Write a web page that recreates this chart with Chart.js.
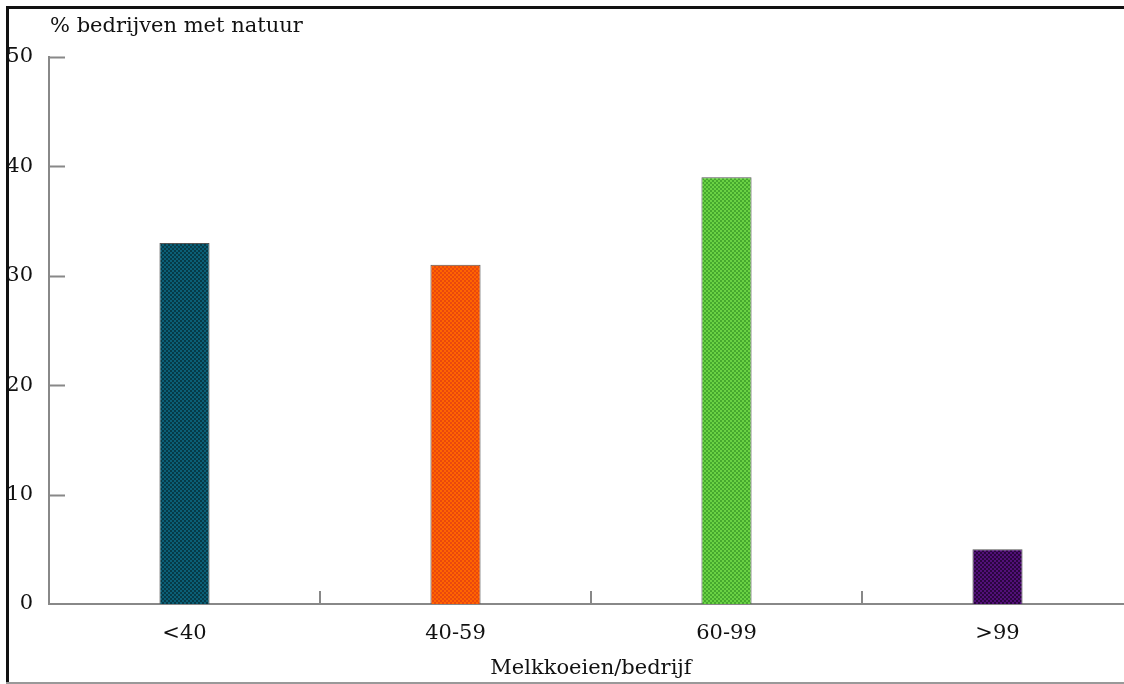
<!DOCTYPE html>
<html lang="nl">
<head>
    <meta charset="UTF-8">
    <title>Melkkoeien/bedrijf</title>
    <script src="https://cdn.jsdelivr.net/npm/chart.js"></script>
    <style>
        html, body {
            margin: 0;
            padding: 0;
            background: #fff;
            overflow: hidden;
        }
        .wrap {
            position: relative;
            width: 1150px;
            height: 684px;
        }
        .frame-top { position: absolute; left: 6px; top: 6px; width: 1150px; height: 0; border-top: 3px solid #111; }
        .frame-left { position: absolute; left: 6px; top: 6px; width: 0; height: 678px; border-left: 3px solid #111; }
        .frame-bottom { position: absolute; left: 6px; top: 682px; width: 1150px; height: 0; border-top: 2px solid #999; }
    </style>
</head>
<body>
    <div class="wrap">
        <canvas id="chart" width="1150" height="684"></canvas>
        <div class="frame-top"></div>
        <div class="frame-left"></div>
        <div class="frame-bottom"></div>
    </div>

    <script>
        // ---------- data ----------
        const categories = ['<40', '40-59', '60-99', '>99'];
        const percentages = [33, 31, 39, 5];
        const yTicks = [0, 10, 20, 30, 40, 50];
        const yTitle = '% bedrijven met natuur';
        const xTitle = 'Melkkoeien/bedrijf';

        const FONT = { family: '"DejaVu Serif", serif', size: 21 };

        // dithered fill like the original gif
        function makePattern(c1, c2) {
            const p = document.createElement('canvas');
            p.width = 4; p.height = 4;
            const g = p.getContext('2d');
            g.fillStyle = c1;
            g.fillRect(0, 0, 4, 4);
            g.fillStyle = c2;
            g.fillRect(0, 0, 2, 2);
            g.fillRect(2, 2, 2, 2);
            return g.createPattern(p, 'repeat');
        }

        const ctx = document.getElementById('chart').getContext('2d');
        const fills = [
            makePattern('#0b5f77', '#063a47'),
            makePattern('#ff6400', '#e9480e'),
            makePattern('#6ad244', '#46a82e'),
            makePattern('#521078', '#2a053f')
        ];

        // inward tick marks + y title at top
        const decorations = {
            id: 'decorations',
            afterDraw(chart) {
                const { ctx, chartArea, scales } = chart;
                const x = scales.x, y = scales.y;
                ctx.save();
                ctx.strokeStyle = '#888';
                ctx.lineWidth = 2;
                ctx.beginPath();
                yTicks.forEach(v => {
                    if (v === 0) return;
                    const py = Math.round(y.getPixelForValue(v)) + 0.5;
                    ctx.moveTo(chartArea.left, py);
                    ctx.lineTo(chartArea.left + 16, py);
                });
                for (let i = 0; i < categories.length - 1; i++) {
                    const px = Math.round((x.getPixelForValue(i) + x.getPixelForValue(i + 1)) / 2);
                    ctx.moveTo(px, chartArea.bottom);
                    ctx.lineTo(px, chartArea.bottom - 13);
                }
                ctx.stroke();

                ctx.fillStyle = '#111';
                ctx.font = FONT.size + 'px ' + FONT.family;
                ctx.textBaseline = 'middle';
                ctx.textAlign = 'left';
                ctx.fillText(yTitle, chartArea.left + 1, 27);
                ctx.restore();
            }
        };

        new Chart(ctx, {
            type: 'bar',
            data: {
                labels: categories,
                datasets: [{
                    data: percentages,
                    backgroundColor: fills,
                    borderColor: '#555',
                    borderWidth: 1,
                    categoryPercentage: 1,
                    barPercentage: 0.185
                }]
            },
            options: {
                responsive: false,
                animation: false,
                layout: { padding: { top: 57, left: 6, right: 17, bottom: 0 } },
                plugins: {
                    legend: { display: false },
                    tooltip: { enabled: false }
                },
                scales: {
                    x: {
                        offset: true,
                        afterFit(scale) { scale.height = 80; },
                        grid: { display: false, drawTicks: false },
                        border: { color: '#888', width: 2 },
                        ticks: { color: '#111', font: FONT, padding: 17 },
                        title: { display: true, text: xTitle, color: '#111', font: FONT, padding: { top: 0, bottom: 3 } }
                    },
                    y: {
                        min: 0,
                        max: 50,
                        afterBuildTicks(scale) {
                            scale.ticks = yTicks.map(v => ({ value: v }));
                        },
                        afterFit(scale) { scale.width = 43; },
                        grid: { display: false, drawTicks: false },
                        border: { color: '#888', width: 2 },
                        ticks: { color: '#111', font: FONT, padding: 16 }
                    }
                }
            },
            plugins: [decorations]
        });
    </script>
</body>
</html>
